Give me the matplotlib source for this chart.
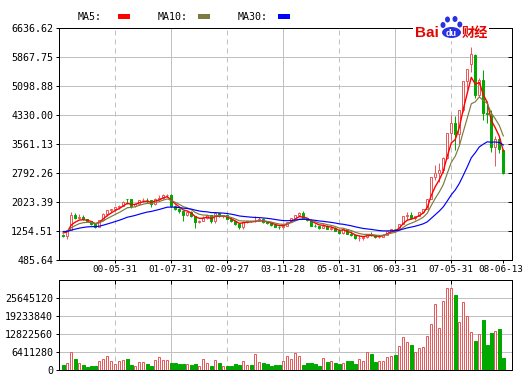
import matplotlib
matplotlib.use("Agg")
import matplotlib.pyplot as plt
import numpy as np
from matplotlib.patches import Rectangle, Ellipse
from matplotlib.transforms import ScaledTranslation

# ---------------- data (monthly, 1999-04 .. 2008-06) ----------------
opens = [
    1158, 1120, 1280, 1690, 1601, 1627, 1566, 1525, 1444,
    1368, 1535, 1714, 1800, 1836, 1894, 1928, 2110, 2097, 1910, 1961, 2070,
    2073, 2065, 1959, 2112, 2119, 2214, 2218, 1920, 1834, 1772, 1689, 1747,
    1646, 1491, 1524, 1603, 1667, 1515, 1733, 1652, 1669, 1581, 1507, 1435,
    1357, 1500, 1515, 1510, 1521, 1576, 1487, 1476, 1421, 1367, 1348, 1397,
    1497, 1590, 1675, 1742, 1595, 1555, 1399, 1386, 1342, 1396, 1320, 1340,
    1266, 1191, 1306, 1181, 1159, 1060, 1080, 1083, 1162, 1155, 1092, 1099,
    1161, 1258, 1299, 1298, 1440, 1641, 1672, 1612, 1658, 1752, 1837, 2099,
    2675, 2786, 2881, 3183, 3841, 4109, 3820, 4471, 5219, 5683, 5914, 4871,
    5265, 4383, 4330, 3473, 3693, 3400]
closes = [
    1120, 1279, 1690, 1601, 1627, 1566, 1525, 1444, 1367,
    1535, 1714, 1800, 1836, 1894, 1928, 2023, 2097, 1910, 1961, 2070, 2073,
    2065, 1959, 2112, 2119, 2214, 2218, 1920, 1834, 1772, 1689, 1747, 1646,
    1491, 1524, 1603, 1667, 1515, 1733, 1652, 1669, 1581, 1507, 1435, 1357,
    1500, 1511, 1510, 1521, 1576, 1487, 1476, 1421, 1367, 1348, 1397, 1497,
    1590, 1675, 1742, 1595, 1555, 1399, 1386, 1342, 1396, 1320, 1340, 1266,
    1191, 1306, 1181, 1159, 1060, 1080, 1083, 1162, 1155, 1092, 1099, 1161,
    1258, 1299, 1298, 1440, 1641, 1672, 1612, 1658, 1752, 1837, 2099, 2675,
    2786, 2881, 3183, 3841, 4109, 3820, 4471, 5219, 5552, 5954, 4871, 5262,
    4383, 4348, 3473, 3693, 3433, 2795]
highs = [
    1166, 1280, 1756, 1725, 1702, 1683, 1585, 1530, 1449,
    1541, 1726, 1804, 1837, 1898, 1931, 2040, 2114, 2100, 1990, 2076, 2125,
    2131, 2075, 2123, 2212, 2232, 2245, 2226, 1957, 1863, 1779, 1776, 1780,
    1657, 1533, 1646, 1682, 1672, 1748, 1735, 1691, 1676, 1600, 1520, 1450,
    1514, 1521, 1530, 1649, 1620, 1589, 1518, 1480, 1440, 1395, 1410, 1500,
    1600, 1690, 1760, 1783, 1610, 1580, 1450, 1400, 1450, 1410, 1380, 1350,
    1270, 1329, 1310, 1243, 1160, 1146, 1090, 1180, 1224, 1160, 1110, 1180,
    1260, 1320, 1300, 1445, 1655, 1757, 1758, 1660, 1760, 1840, 2100, 2698,
    2994, 3049, 3205, 3848, 4335, 4312, 4472, 5219, 5562, 6124, 5950, 5300,
    5522, 4695, 4473, 3786, 3786, 3434]
lows = [
    1099, 1047, 1272, 1560, 1560, 1545, 1508, 1426, 1342,
    1361, 1514, 1642, 1752, 1788, 1832, 1920, 1980, 1874, 1890, 1950, 2030,
    1993, 1893, 1940, 2080, 2110, 2166, 1902, 1810, 1732, 1514, 1650, 1620,
    1339, 1470, 1510, 1560, 1455, 1455, 1620, 1594, 1561, 1496, 1410, 1311,
    1311, 1470, 1486, 1490, 1510, 1468, 1430, 1400, 1350, 1307, 1316, 1380,
    1490, 1580, 1640, 1580, 1530, 1390, 1370, 1300, 1330, 1305, 1290, 1260,
    1176, 1180, 1166, 1130, 1044, 998, 1004, 1080, 1130, 1067, 1074, 1090,
    1160, 1250, 1257, 1295, 1431, 1546, 1580, 1541, 1650, 1745, 1830, 2090,
    2605, 2542, 2800, 3160, 3680, 3404, 3563, 4400, 5030, 5462, 4778, 4812,
    4196, 4123, 3357, 2990, 3333, 2759]
volumes_m = [
    1.9, 2.6, 6.5, 4.0, 2.6, 1.9, 1.2, 1.5, 1.5,
    3.3, 4.0, 5.1, 3.3, 2.3, 3.3, 3.7, 4.0, 1.9, 1.5, 3.0, 3.0,
    2.3, 1.5, 3.7, 4.7, 3.7, 3.7, 2.6, 2.6, 2.3, 2.3, 2.3, 1.9,
    2.3, 1.5, 4.0, 2.6, 1.5, 3.7, 2.6, 1.5, 1.5, 1.5, 2.3, 1.9,
    3.3, 1.9, 1.9, 5.8, 3.0, 2.4, 2.0, 1.4, 1.7, 1.7, 3.2, 5.0,
    3.9, 6.1, 5.0, 1.8, 2.5, 2.5, 2.1, 1.4, 4.3, 2.8, 3.2, 2.5,
    2.1, 2.5, 3.2, 3.2, 2.1, 3.9, 3.2, 6.4, 5.7, 2.8, 3.2, 3.2,
    4.6, 5.0, 5.3, 8.4, 11.6, 10.0, 8.8, 6.3, 7.7, 8.1, 12.0, 16.3,
    23.5, 14.8, 24.5, 29.1, 29.1, 26.7, 17.0, 24.1, 19.1, 13.4, 10.3, 12.7,
    17.8, 8.8, 13.2, 13.8, 14.6, 4.3]
# closes before the first bar, only used to seed the moving averages
warmup_closes = [1100, 1080, 1120, 1150, 1130, 1120, 1140, 1150, 1164,
                 1250, 1280, 1320, 1300, 1380, 1350, 1310, 1330, 1300, 1280,
                 1290, 1270, 1260, 1280, 1300, 1290, 1270, 1250, 1240, 1256]

x_tick_idx = [13, 27, 41, 55, 69, 83, 97, 110]
x_tick_labels = ["00-05-31", "01-07-31", "02-09-27", "03-11-28",
                 "05-01-31", "06-03-31", "07-05-31", "08-06-13"]
solid_grid_idx = [27, 55, 83]
dashed_grid_idx = [13, 41, 69, 97]
price_ticks = [485.64, 1254.51, 2023.39, 2792.26, 3561.13,
               4330.00, 5098.88, 5867.75, 6636.62]
vol_ticks = [0, 6411280, 12822560, 19233840, 25645120]
vol_top = 32056400
ma_names = ["MA5:", "MA10:", "MA30:"]
ma_smoothing = [0.4, 0.22, 0.08]   # exponential smoothing factors of the MA lines

# ---------------- styling ----------------
W, H = 525, 387
RED = "#E65C5C"
GREEN = "#00A800"
GRID = "#C0C0C0"
MA_COLORS = ["#FF0000", "#7B7B3F", "#0000FF"]
MA_LW = [1.0, 0.85, 0.85]
MONO = "DejaVu Sans Mono"
FS = 7.2
PX = 0.72  # one pixel in points

o = np.array(opens, float)
c = np.array(closes, float)
h = np.array(highs, float)
l = np.array(lows, float)
v = np.array(volumes_m, float) * 1e6
n = len(c)
x = np.arange(n)
up = c >= o

fig = plt.figure(figsize=(W / 100, H / 100), dpi=100)
fig.patch.set_facecolor("white")

XL = (59 - 63.3) / 4.0
XR = (512 - 63.3) / 4.0


def frame(ax):
    for s in ax.spines.values():
        s.set_color("black")
        s.set_linewidth(PX)
    ax.set_xlim(XL, XR)
    for xi in solid_grid_idx:
        ax.axvline(xi, color=GRID, lw=PX, zorder=0.5)
    for xi in dashed_grid_idx:
        ax.axvline(xi, color=GRID, lw=PX, ls=(0, (5, 4)), zorder=0.5)


def smooth(series, a):
    out = []
    e = series[0]
    for s in series:
        e = e + a * (s - e)
        out.append(e)
    return np.array(out)


# ---------------- price panel ----------------
ax = fig.add_axes([59 / W, 1 - 260 / H, 453 / W, 232 / H])
frame(ax)
ax.set_ylim(price_ticks[0], price_ticks[-1])
for yv in price_ticks[1:-1]:
    ax.axhline(yv, color=GRID, lw=PX, zorder=0.5)

wick_cols = [RED if u else GREEN for u in up]
ax.vlines(x, l, h, colors=wick_cols, lw=PX, zorder=2)
bot = np.minimum(o, c)
hgt = np.maximum(np.abs(c - o), 8)
ax.bar(x[up], hgt[up], bottom=bot[up], width=0.55, facecolor="white",
       edgecolor=RED, lw=PX, zorder=3)
ax.bar(x[~up], hgt[~up], bottom=bot[~up], width=0.55, facecolor=GREEN,
       edgecolor=GREEN, lw=PX, zorder=3)

allc = warmup_closes + closes
off = len(warmup_closes)
for a, col, lw in zip(ma_smoothing, MA_COLORS, MA_LW):
    ma = smooth(allc, a)[off:]
    ax.plot(x, ma, color=col, lw=lw, zorder=4)

ax.set_yticks(price_ticks)
ax.set_yticklabels(["%.2f" % t for t in price_ticks], fontsize=FS, family=MONO)
ax.set_xticks(x_tick_idx)
ax.set_xticklabels(x_tick_labels, fontsize=6.7, family=MONO)
ax.tick_params(axis="y", direction="out", length=2.2, width=PX, pad=2.0,
               left=True, right=False)
ax.tick_params(axis="x", direction="out", length=2.2, width=PX, pad=1.2)
last = ax.get_xticklabels()[-1]
last.set_transform(last.get_transform() +
                   ScaledTranslation(-2.0 / 100, 0, fig.dpi_scale_trans))
axr = ax.twinx()
axr.set_ylim(ax.get_ylim())
axr.set_yticks(price_ticks)
axr.tick_params(axis="y", direction="in", length=3, width=PX, labelright=False)
for s in axr.spines.values():
    s.set_visible(False)

# ---------------- volume panel ----------------
av = fig.add_axes([59 / W, 1 - 370 / H, 453 / W, 90 / H])
frame(av)
av.set_ylim(0, vol_top)
for yv in vol_ticks[1:]:
    av.axhline(yv, color=GRID, lw=PX, zorder=0.5)
av.bar(x[up], v[up], width=0.55, facecolor="white", edgecolor=RED, lw=PX, zorder=3)
av.bar(x[~up], v[~up], width=0.6, facecolor=GREEN, edgecolor=GREEN, lw=PX, zorder=3)
av.set_yticks(vol_ticks)
av.set_yticklabels([str(t) for t in vol_ticks], fontsize=FS, family=MONO)
av.tick_params(axis="y", direction="out", length=2.2, width=PX, pad=2.0)
av.set_xticks(x_tick_idx[:-1])
av.tick_params(axis="x", direction="in", length=3, width=PX, labelbottom=False,
               bottom=False, top=True)

# ---------------- legend & logo overlay (pixel coordinates) ----------------
ov = fig.add_axes([0, 0, 1, 1], zorder=10)
ov.set_xlim(0, W)
ov.set_ylim(H, 0)
ov.axis("off")
leg_x = [78, 158, 238]
for name, col, lx in zip(ma_names, MA_COLORS, leg_x):
    ov.text(lx, 17, name, fontsize=FS, family=MONO, va="center", ha="left")
    ov.add_patch(Rectangle((lx + 40, 14.3), 11.5, 4.3, facecolor=col,
                           edgecolor="none"))

ov.add_patch(Rectangle((413, 26.5), 76, 14, facecolor="white", edgecolor="none"))
ov.text(415, 33, "Bai", color="#E10602", fontsize=11.0, fontweight="bold",
        family="Liberation Sans", va="center", ha="left")
BLUE_LOGO = "#2932E1"
ov.add_patch(Ellipse((451.5, 32.5), 19, 11, facecolor=BLUE_LOGO, edgecolor="none"))
for (cx, cy) in [(443.0, 25.0), (447.5, 19.5), (455.0, 19.0), (459.8, 24.5)]:
    ov.add_patch(Ellipse((cx, cy), 5.0, 6.0, facecolor=BLUE_LOGO, edgecolor="none"))
ov.text(451.5, 33, "du", color="white", fontsize=6.5, fontweight="bold",
        family="Liberation Sans", va="center", ha="center")
ov.text(462, 32.5, "财经", color="#E10602", fontsize=9.5, fontweight="bold",
        family=["Noto Sans CJK SC", "DejaVu Sans"], va="center", ha="left")

fig.savefig("out.png", dpi=100, facecolor="white")
